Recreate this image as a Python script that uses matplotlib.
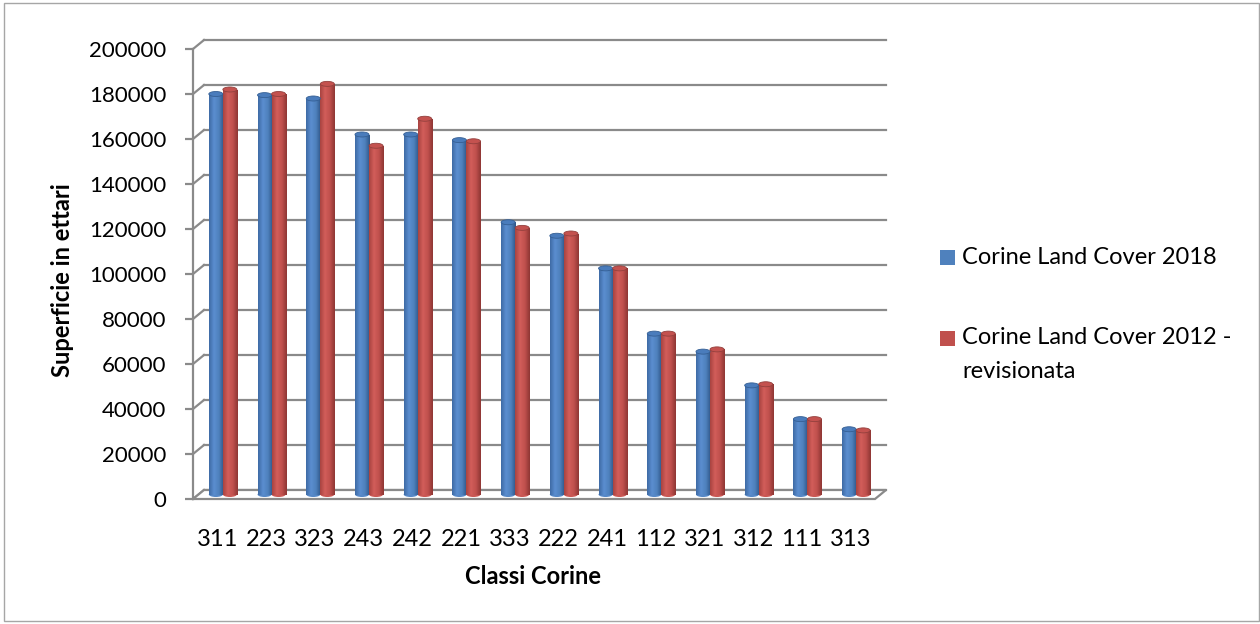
import matplotlib.pyplot as plt
import numpy as np
from matplotlib.colors import LinearSegmentedColormap
from matplotlib.lines import Line2D
from matplotlib.patches import Ellipse, Polygon, Rectangle
from matplotlib.transforms import IdentityTransform, ScaledTranslation

plt.rcParams["font.family"] = ["Lato", "DejaVu Sans"]

# Corine classes, sorted by 2018 area
classes = ["311", "223", "323", "243", "242", "221", "333", "222", "241",
           "112", "321", "312", "111", "313"]
clc_2018 = [178000, 177500, 176000, 160000, 160000, 157500, 121000, 115000,
            100500, 71500, 63500, 48500, 33500, 29000]
clc_2012_rev = [180000, 178000, 182500, 155000, 167000, 157000, 118500, 116000,
                100500, 71500, 64500, 49000, 33500, 28500]
series_names = ["Corine Land Cover 2018", "Corine Land Cover 2012 -\nrevisionata"]
y_ticks = np.arange(0, 200001, 20000)

W, H, DPI = 1260, 624, 100
GRID = "#8a8a8a"
BAR_W = 0.288
FS = 16
FS_BIG = 17

blue_cmap = LinearSegmentedColormap.from_list(
    "cyl_blue", ["#3e6aa5", "#5b8ed0", "#4f81bd", "#2f5688"])
red_cmap = LinearSegmentedColormap.from_list(
    "cyl_red", ["#a84340", "#d25e5a", "#c0504d", "#8e3634"])
series = [(clc_2018, blue_cmap, "#4a7cbc", "#355f94", "#4f81bd"),
          (clc_2012_rev, red_cmap, "#c4524f", "#93403d", "#c0504d")]

fig = plt.figure(figsize=(W / DPI, H / DPI), dpi=DPI)
fig.patch.set_facecolor("white")
fig.add_artist(Rectangle((4 / W, 3 / H), 1255 / W, 618 / H, transform=fig.transFigure,
                         facecolor="none", edgecolor="#a6a6a6", lw=1))

ax = fig.add_axes([193 / W, 1 - 499 / H, 682 / W, 450 / H])
n = len(classes)
idx = np.arange(n)

# depth offsets of the 3d look: back wall and the middle row where bars stand
back = ax.transData + ScaledTranslation(11 / DPI, 9 / DPI, fig.dpi_scale_trans)
mid = ax.transData + ScaledTranslation(5.5 / DPI, 4.5 / DPI, fig.dpi_scale_trans)

ax.set_xlim(-0.5, n - 0.5)
ax.set_ylim(0, 200000)

for v in y_ticks:
    ax.plot([-0.5, n - 0.5], [v, v], transform=back, color=GRID, lw=1.6,
            clip_on=False, zorder=1)
    p0 = ax.transData.transform((-0.5, v))
    p1 = back.transform((-0.5, v))
    ax.add_line(Line2D([p0[0], p1[0]], [p0[1], p1[1]], transform=IdentityTransform(),
                       color=GRID, lw=1.6, clip_on=False, zorder=1))

floor = np.array([ax.transData.transform((-0.5, 0)), ax.transData.transform((n - 0.5, 0)),
                  back.transform((n - 0.5, 0)), back.transform((-0.5, 0))])
ax.add_patch(Polygon(floor, closed=True, transform=IdentityTransform(), facecolor="white",
                     edgecolor=GRID, lw=1.6, clip_on=False, zorder=1.5))

grad = np.linspace(0, 1, 64).reshape(1, -1)
eh = 5 / 450 * 200000  # ellipse cap height in data units
for k, (vals, cmap, top_c, edge_c, _) in enumerate(series):
    xs = idx + (k - 0.5) * BAR_W
    ax.bar(xs, vals, width=BAR_W, color="none", transform=mid, clip_on=False, zorder=3)
    for x, v in zip(xs, vals):
        ax.add_patch(Ellipse((x, 0), BAR_W, eh, transform=mid, facecolor=cmap(0.5),
                             edgecolor="none", clip_on=False, zorder=2.9))
        ax.imshow(grad, cmap=cmap, extent=(x - BAR_W / 2, x + BAR_W / 2, 0, v),
                  transform=mid, aspect="auto", interpolation="bilinear",
                  clip_on=False, zorder=3)
        ax.add_patch(Ellipse((x, v), BAR_W, eh, transform=mid, facecolor=top_c,
                             edgecolor=edge_c, lw=0.6, clip_on=False, zorder=3.2))

ax.set_xlim(-0.5, n - 0.5)
ax.set_ylim(0, 200000)
ax.set_aspect("auto")
ax.patch.set_visible(False)
for side in ["top", "right", "bottom"]:
    ax.spines[side].set_visible(False)
ax.spines["left"].set_color(GRID)
ax.spines["left"].set_linewidth(1.6)
ax.spines["left"].set_zorder(1)

ax.set_yticks(y_ticks)
ax.set_yticklabels([str(v) for v in y_ticks])
ax.tick_params(axis="y", length=5.8, width=1.6, color=GRID, pad=13.5, labelsize=FS)
ax.set_xticks(idx)
ax.set_xticklabels(classes)
ax.tick_params(axis="x", length=0, pad=21.5, labelsize=FS_BIG)

fig.text(533 / W, 1 - 577 / H, "Classi Corine", ha="center", va="center",
         fontsize=FS_BIG, fontweight="bold")
fig.text(62 / W, 1 - 280 / H, "Superficie in ettari", ha="center", va="center",
         rotation=90, fontsize=FS_BIG, fontweight="bold")

# legend
legend_rows = [258, 338]
for (vals, cmap, top_c, edge_c, key_c), name, yc in zip(series, series_names, legend_rows):
    fig.add_artist(Rectangle((940 / W, 1 - (yc + 7.5) / H), 15 / W, 15 / H,
                             transform=fig.transFigure, facecolor=key_c,
                             edgecolor="none"))
    for j, line in enumerate(name.split("\n")):
        fig.text(962 / W, 1 - (yc + 34 * j) / H, line, ha="left", va="center",
                 fontsize=FS_BIG)

fig.savefig("out.png", dpi=DPI)
